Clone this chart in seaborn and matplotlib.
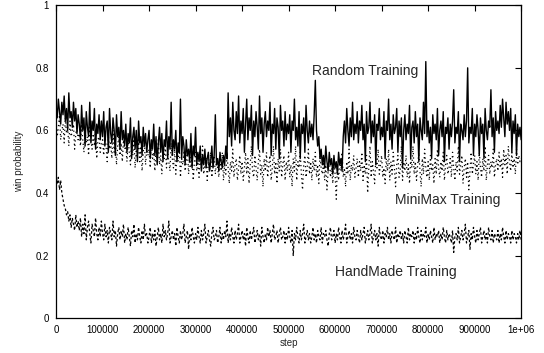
import numpy as np
import matplotlib
matplotlib.use("Agg")
import matplotlib.pyplot as plt
import seaborn as sns

# =========================
# Data (one value every 2500 steps)
# =========================
steps = np.arange(0, 1000001, 2500)

random_training = [
    0.68, 0.64, 0.70, 0.66, 0.62, 0.69, 0.65, 0.71, 0.63, 0.67, 0.60, 0.72, 0.64, 0.66, 0.61, 0.69, 0.63, 0.67, 0.59, 0.65,
    0.62, 0.57, 0.68, 0.60, 0.64, 0.55, 0.66, 0.61, 0.58, 0.69, 0.56, 0.63, 0.60, 0.67, 0.54, 0.62, 0.59, 0.65, 0.57, 0.63,
    0.58, 0.66, 0.55, 0.61, 0.63, 0.53, 0.67, 0.59, 0.56, 0.64, 0.60, 0.52, 0.65, 0.58, 0.61, 0.54, 0.66, 0.57, 0.60, 0.55,
    0.62, 0.53, 0.59, 0.56, 0.64, 0.51, 0.58, 0.61, 0.54, 0.60, 0.50, 0.63, 0.56, 0.58, 0.52, 0.61, 0.55, 0.59, 0.53, 0.57,
    0.60, 0.51, 0.57, 0.54, 0.62, 0.52, 0.58, 0.49, 0.56, 0.61, 0.53, 0.59, 0.50, 0.57, 0.55, 0.63, 0.51, 0.58, 0.54, 0.69,
    0.52, 0.57, 0.54, 0.60, 0.50, 0.56, 0.53, 0.70, 0.51, 0.58, 0.55, 0.49, 0.57, 0.52, 0.54, 0.50, 0.59, 0.48, 0.55, 0.52,
    0.61, 0.49, 0.53, 0.50, 0.55, 0.47, 0.52, 0.49, 0.54, 0.48, 0.51, 0.53, 0.47, 0.50, 0.55, 0.48, 0.52, 0.65, 0.49, 0.51,
    0.47, 0.53, 0.50, 0.48, 0.52, 0.49, 0.55, 0.51, 0.72, 0.58, 0.64, 0.55, 0.69, 0.60, 0.57, 0.66, 0.59, 0.71, 0.56, 0.63,
    0.59, 0.67, 0.53, 0.62, 0.70, 0.57, 0.64, 0.60, 0.68, 0.52, 0.63, 0.58, 0.66, 0.61, 0.54, 0.71, 0.59, 0.64, 0.53, 0.62,
    0.66, 0.58, 0.63, 0.60, 0.69, 0.52, 0.62, 0.59, 0.67, 0.54, 0.64, 0.61, 0.51, 0.68, 0.60, 0.63, 0.55, 0.66, 0.57, 0.62,
    0.59, 0.65, 0.53, 0.63, 0.60, 0.70, 0.57, 0.61, 0.55, 0.66, 0.51, 0.62, 0.59, 0.64, 0.53, 0.68, 0.60, 0.56, 0.63, 0.58,
    0.62, 0.57, 0.65, 0.76, 0.60, 0.55, 0.58, 0.51, 0.54, 0.49, 0.52, 0.48, 0.55, 0.50, 0.47, 0.53, 0.49, 0.51, 0.46, 0.52,
    0.48, 0.50, 0.46, 0.53, 0.49, 0.51, 0.47, 0.58, 0.63, 0.56, 0.67, 0.60, 0.55, 0.64, 0.58, 0.69, 0.57, 0.62, 0.59, 0.66,
    0.56, 0.63, 0.60, 0.68, 0.57, 0.62, 0.50, 0.66, 0.59, 0.61, 0.69, 0.56, 0.63, 0.58, 0.65, 0.49, 0.62, 0.60, 0.67, 0.57,
    0.61, 0.58, 0.66, 0.51, 0.63, 0.60, 0.70, 0.57, 0.62, 0.54, 0.65, 0.59, 0.61, 0.67, 0.53, 0.63, 0.58, 0.64, 0.48, 0.60,
    0.65, 0.57, 0.62, 0.59, 0.68, 0.51, 0.61, 0.63, 0.56, 0.66, 0.58, 0.62, 0.50, 0.64, 0.60, 0.57, 0.69, 0.59, 0.82, 0.58,
    0.63, 0.56, 0.61, 0.51, 0.65, 0.59, 0.62, 0.57, 0.67, 0.52, 0.60, 0.63, 0.58, 0.66, 0.50, 0.61, 0.59, 0.64, 0.54, 0.62,
    0.58, 0.63, 0.73, 0.56, 0.61, 0.59, 0.66, 0.50, 0.62, 0.60, 0.57, 0.65, 0.58, 0.63, 0.80, 0.56, 0.61, 0.59, 0.67, 0.52,
    0.62, 0.58, 0.65, 0.60, 0.52, 0.64, 0.59, 0.62, 0.51, 0.67, 0.60, 0.57, 0.63, 0.61, 0.73, 0.58, 0.64, 0.53, 0.66, 0.60,
    0.63, 0.59, 0.68, 0.61, 0.70, 0.64, 0.58, 0.69, 0.62, 0.66, 0.60, 0.67, 0.53, 0.63, 0.59, 0.65, 0.52, 0.62, 0.58, 0.61,
    0.57,
]

minimax_training = [
    0.63, 0.58, 0.61, 0.65, 0.57, 0.60, 0.62, 0.56, 0.64, 0.59, 0.61, 0.55, 0.63, 0.58, 0.60, 0.62, 0.54, 0.59, 0.61, 0.57,
    0.59, 0.55, 0.62, 0.57, 0.53, 0.60, 0.56, 0.58, 0.52, 0.61, 0.57, 0.54, 0.59, 0.55, 0.60, 0.51, 0.57, 0.58, 0.53, 0.56,
    0.57, 0.52, 0.59, 0.55, 0.50, 0.58, 0.54, 0.56, 0.51, 0.60, 0.53, 0.57, 0.49, 0.55, 0.58, 0.52, 0.56, 0.50, 0.57, 0.54,
    0.55, 0.50, 0.57, 0.53, 0.49, 0.56, 0.52, 0.58, 0.48, 0.54, 0.51, 0.57, 0.50, 0.55, 0.47, 0.53, 0.56, 0.49, 0.54, 0.52,
    0.54, 0.48, 0.56, 0.51, 0.53, 0.47, 0.55, 0.50, 0.57, 0.49, 0.52, 0.46, 0.54, 0.51, 0.55, 0.48, 0.53, 0.50, 0.47, 0.56,
    0.51, 0.48, 0.54, 0.46, 0.52, 0.50, 0.55, 0.45, 0.51, 0.49, 0.53, 0.47, 0.50, 0.54, 0.46, 0.52, 0.48, 0.51, 0.44, 0.50,
    0.53, 0.47, 0.50, 0.45, 0.52, 0.48, 0.55, 0.46, 0.49, 0.51, 0.44, 0.50, 0.47, 0.53, 0.45, 0.49, 0.52, 0.46, 0.50, 0.48,
    0.45, 0.51, 0.47, 0.53, 0.44, 0.49, 0.46, 0.52, 0.48, 0.43, 0.50, 0.47, 0.54, 0.45, 0.49, 0.51, 0.44, 0.48, 0.52, 0.46,
    0.50, 0.44, 0.48, 0.53, 0.46, 0.51, 0.43, 0.49, 0.55, 0.47, 0.45, 0.52, 0.48, 0.44, 0.50, 0.54, 0.46, 0.49, 0.42, 0.51,
    0.47, 0.53, 0.45, 0.49, 0.52, 0.44, 0.48, 0.55, 0.46, 0.50, 0.43, 0.51, 0.47, 0.54, 0.45, 0.49, 0.52, 0.44, 0.50, 0.47,
    0.53, 0.45, 0.49, 0.42, 0.51, 0.47, 0.55, 0.44, 0.50, 0.48, 0.53, 0.46, 0.41, 0.49, 0.52, 0.45, 0.48, 0.54, 0.46, 0.50,
    0.44, 0.51, 0.47, 0.53, 0.45, 0.49, 0.43, 0.52, 0.48, 0.46, 0.50, 0.44, 0.49, 0.41, 0.47, 0.51, 0.45, 0.48, 0.43, 0.50,
    0.46, 0.38, 0.49, 0.44, 0.51, 0.47, 0.53, 0.45, 0.48, 0.42, 0.50, 0.46, 0.54, 0.44, 0.49, 0.47, 0.52, 0.45, 0.48, 0.51,
    0.45, 0.50, 0.47, 0.53, 0.44, 0.49, 0.46, 0.52, 0.40, 0.48, 0.55, 0.45, 0.50, 0.47, 0.43, 0.51, 0.48, 0.54, 0.46, 0.49,
    0.52, 0.45, 0.48, 0.43, 0.51, 0.47, 0.54, 0.44, 0.50, 0.46, 0.53, 0.48, 0.42, 0.49, 0.52, 0.45, 0.47, 0.55, 0.44, 0.50,
    0.47, 0.52, 0.45, 0.49, 0.43, 0.51, 0.48, 0.55, 0.46, 0.50, 0.44, 0.49, 0.53, 0.47, 0.42, 0.51, 0.46, 0.54, 0.48, 0.45,
    0.50, 0.44, 0.52, 0.47, 0.49, 0.43, 0.51, 0.46, 0.54, 0.48, 0.45, 0.50, 0.47, 0.53, 0.44, 0.49, 0.52, 0.46, 0.48, 0.51,
    0.45, 0.53, 0.48, 0.44, 0.50, 0.47, 0.55, 0.46, 0.49, 0.52, 0.43, 0.48, 0.51, 0.45, 0.50, 0.41, 0.47, 0.53, 0.46, 0.49,
    0.52, 0.46, 0.50, 0.44, 0.53, 0.48, 0.45, 0.51, 0.47, 0.55, 0.44, 0.49, 0.52, 0.46, 0.50, 0.48, 0.54, 0.45, 0.49, 0.51,
    0.47, 0.53, 0.48, 0.51, 0.45, 0.54, 0.49, 0.52, 0.46, 0.55, 0.50, 0.47, 0.53, 0.48, 0.51, 0.46, 0.54, 0.49, 0.52, 0.50,
    0.51,
]

handmade_training = [
    0.46, 0.43, 0.45, 0.41, 0.44, 0.40, 0.38, 0.36, 0.35, 0.33, 0.34, 0.31, 0.33, 0.29, 0.32, 0.30, 0.28, 0.33, 0.29, 0.31,
    0.28, 0.32, 0.26, 0.30, 0.27, 0.33, 0.25, 0.29, 0.31, 0.27, 0.24, 0.30, 0.28, 0.26, 0.32, 0.27, 0.25, 0.29, 0.26, 0.31,
    0.27, 0.25, 0.30, 0.26, 0.28, 0.24, 0.29, 0.27, 0.25, 0.31, 0.26, 0.28, 0.23, 0.27, 0.29, 0.25, 0.28, 0.26, 0.30, 0.24,
    0.27, 0.25, 0.29, 0.26, 0.23, 0.28, 0.26, 0.30, 0.24, 0.27, 0.25, 0.29, 0.26, 0.24, 0.28, 0.25, 0.30, 0.26, 0.27, 0.24,
    0.26, 0.29, 0.24, 0.27, 0.25, 0.28, 0.23, 0.26, 0.29, 0.25, 0.27, 0.24, 0.30, 0.26, 0.28, 0.25, 0.27, 0.31, 0.24, 0.26,
    0.28, 0.25, 0.27, 0.23, 0.29, 0.26, 0.24, 0.28, 0.25, 0.27, 0.30, 0.24, 0.26, 0.28, 0.22, 0.27, 0.25, 0.29, 0.26, 0.24,
    0.27, 0.25, 0.29, 0.26, 0.24, 0.28, 0.25, 0.27, 0.30, 0.24, 0.26, 0.28, 0.25, 0.23, 0.27, 0.29, 0.25, 0.26, 0.28, 0.24,
    0.26, 0.29, 0.24, 0.27, 0.25, 0.28, 0.26, 0.31, 0.24, 0.27, 0.25, 0.29, 0.26, 0.24, 0.28, 0.25, 0.27, 0.30, 0.24, 0.26,
    0.28, 0.25, 0.27, 0.23, 0.29, 0.26, 0.24, 0.28, 0.25, 0.27, 0.29, 0.24, 0.26, 0.28, 0.25, 0.27, 0.23, 0.29, 0.26, 0.24,
    0.27, 0.25, 0.29, 0.26, 0.28, 0.24, 0.27, 0.30, 0.25, 0.26, 0.28, 0.24, 0.27, 0.29, 0.25, 0.26, 0.28, 0.24, 0.27, 0.25,
    0.29, 0.26, 0.24, 0.28, 0.20, 0.27, 0.25, 0.29, 0.26, 0.24, 0.28, 0.25, 0.27, 0.30, 0.24, 0.26, 0.28, 0.25, 0.27, 0.24,
    0.26, 0.29, 0.25, 0.27, 0.24, 0.28, 0.26, 0.25, 0.29, 0.24, 0.27, 0.26, 0.28, 0.25, 0.23, 0.27, 0.29, 0.25, 0.26, 0.28,
    0.24, 0.27, 0.25, 0.29, 0.26, 0.24, 0.28, 0.25, 0.27, 0.30, 0.24, 0.26, 0.28, 0.25, 0.27, 0.24, 0.29, 0.26, 0.25, 0.28,
    0.26, 0.24, 0.28, 0.25, 0.27, 0.29, 0.24, 0.26, 0.28, 0.25, 0.27, 0.30, 0.24, 0.26, 0.28, 0.25, 0.27, 0.23, 0.29, 0.26,
    0.25, 0.28, 0.24, 0.27, 0.26, 0.29, 0.25, 0.27, 0.24, 0.28, 0.26, 0.25, 0.29, 0.24, 0.27, 0.26, 0.28, 0.25, 0.27, 0.24,
    0.28, 0.26, 0.24, 0.29, 0.25, 0.27, 0.26, 0.28, 0.24, 0.27, 0.25, 0.29, 0.26, 0.24, 0.28, 0.25, 0.27, 0.26, 0.29, 0.24,
    0.27, 0.25, 0.28, 0.26, 0.24, 0.29, 0.25, 0.27, 0.26, 0.28, 0.24, 0.27, 0.25, 0.29, 0.26, 0.24, 0.28, 0.25, 0.27, 0.26,
    0.24, 0.28, 0.21, 0.26, 0.27, 0.25, 0.29, 0.24, 0.26, 0.28, 0.25, 0.27, 0.30, 0.24, 0.26, 0.28, 0.22, 0.27, 0.25, 0.29,
    0.26, 0.24, 0.28, 0.25, 0.27, 0.29, 0.24, 0.26, 0.28, 0.25, 0.27, 0.24, 0.29, 0.26, 0.25, 0.28, 0.24, 0.27, 0.26, 0.25,
    0.28, 0.24, 0.27, 0.25, 0.29, 0.26, 0.24, 0.28, 0.25, 0.27, 0.26, 0.24, 0.28, 0.25, 0.27, 0.26, 0.24, 0.27, 0.25, 0.28,
    0.25,
]

x_ticks = [0, 100000, 200000, 300000, 400000, 500000,
           600000, 700000, 800000, 900000, 1000000]
x_tick_labels = ["0", "100000", "200000", "300000", "400000", "500000",
                 "600000", "700000", "800000", "900000", "1e+06"]
y_ticks = [0, 0.2, 0.4, 0.6, 0.8, 1]
y_tick_labels = ["0", "0.2", "0.4", "0.6", "0.8", "1"]

# =========================
# Setup
# =========================
sns.set_theme(style="white")
plt.rcParams["font.family"] = ["Liberation Sans", "DejaVu Sans"]

fig = plt.figure(figsize=(5.44, 3.53), dpi=100)
ax = fig.add_axes([0.103, 0.099, 0.855, 0.886])

# =========================
# Lines
# =========================
sns.lineplot(x=steps, y=random_training, ax=ax, color="black",
             linewidth=1.0, linestyle="-", sort=False)
sns.lineplot(x=steps, y=minimax_training, ax=ax, color="black",
             linewidth=0.9, linestyle=(0, (1, 2.5)), sort=False)
sns.lineplot(x=steps, y=handmade_training, ax=ax, color="black",
             linewidth=0.9, linestyle=(0, (2, 1.8)), sort=False)

# =========================
# Labels on the curves
# =========================
ax.text(665000, 0.789, "Random Training", fontsize=10, ha="center", va="center")
ax.text(843000, 0.377, "MiniMax Training", fontsize=10, ha="center", va="center")
ax.text(731000, 0.147, "HandMade Training", fontsize=10, ha="center", va="center")

# =========================
# Axes styling (gnuplot look)
# =========================
ax.set_xlim(0, 1000000)
ax.set_ylim(0, 1)
ax.set_xticks(x_ticks)
ax.set_xticklabels(x_tick_labels)
ax.set_yticks(y_ticks)
ax.set_yticklabels(y_tick_labels)
ax.tick_params(direction="in", length=4, width=0.8, labelsize=7,
               top=True, right=True, colors="black", pad=5)
ax.set_xlabel("step", fontsize=7, labelpad=2)
ax.set_ylabel("win probability", fontsize=7, labelpad=8)
for spine in ax.spines.values():
    spine.set_color("black")
    spine.set_linewidth(0.9)
ax.grid(False)

fig.savefig("out.png", dpi=100)
plt.close(fig)
